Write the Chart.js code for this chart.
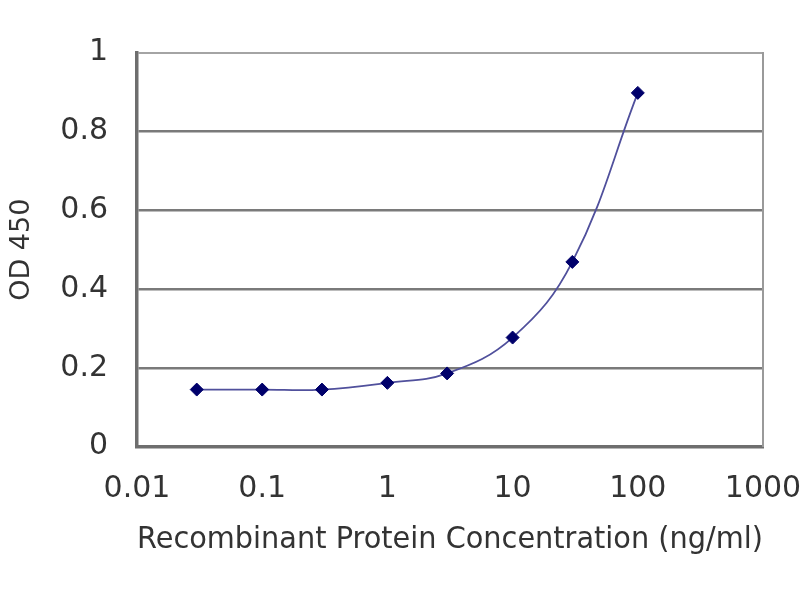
<!DOCTYPE html>
<html lang="en">
<head>
  <meta charset="UTF-8">
  <title>OD 450 x Recombinant Protein Concentration</title>
  <script src="https://cdn.jsdelivr.net/npm/chart.js@4"></script>
  <style>
    html, body { margin: 0; padding: 0; background: #fff; }
    #curva { display: block; }
  </style>
</head>
<body>
  <canvas id="curva" width="800" height="600"></canvas>

<script>
  // valores
  const concentracoes = [0.03, 0.1, 0.3, 1, 3, 10, 30, 100];
  const od450 = [0.145, 0.145, 0.145, 0.162, 0.186, 0.277, 0.469, 0.898];
  const ticksX = [0.01, 0.1, 1, 10, 100, 1000];
  const ticksY = [0, 0.2, 0.4, 0.6, 0.8, 1];

  const pontos = concentracoes.map((c, i) => ({ x: c, y: od450[i] }));
  const corTexto = '#333333';
  const fonte = { family: 'DejaVu Sans', size: 30 };

  new Chart(document.getElementById('curva'), {
    type: 'line',
    data: {
      datasets: [{
        label: 'OD 450',
        data: pontos,
        borderColor: '#50509c',
        borderWidth: 1.8,
        tension: 0.4,
        pointStyle: 'rectRot',
        pointRadius: 6.5,
        pointBackgroundColor: '#00006b',
        pointBorderColor: '#00006b',
        pointBorderWidth: 1
      }]
    },
    options: {
      responsive: false,
      animation: false,
      layout: { padding: { left: 0, right: 37, top: 52.7, bottom: 38 } },
      plugins: {
        legend: { display: false },
        tooltip: { enabled: false }
      },
      scales: {
        x: {
          type: 'logarithmic',
          min: 0.01,
          max: 1000,
          afterBuildTicks: s => { s.ticks = ticksX.map(v => ({ value: v })); },
          afterFit: s => { s.height = 115.3; s.paddingLeft = 0; s.paddingRight = 0; },
          ticks: {
            callback: v => String(v),
            autoSkip: false,
            maxRotation: 0,
            padding: 25,
            color: corTexto,
            font: fonte
          },
          grid: { display: false, drawTicks: false },
          border: { color: '#6e6e6e', width: 3.5 },
          title: {
            display: true,
            text: 'Recombinant Protein Concentration (ng/ml)',
            color: corTexto,
            font: { family: 'DejaVu Sans', size: 29.5 },
            padding: { top: 0, bottom: 4 }
          }
        },
        y: {
          min: 0,
          max: 1,
          afterBuildTicks: s => { s.ticks = ticksY.map(v => ({ value: v })); },
          afterFit: s => { s.width = 137; s.paddingTop = 0; s.paddingBottom = 0; },
          ticks: {
            callback: v => String(+v.toFixed(1)),
            padding: 29,
            color: corTexto,
            font: fonte
          },
          grid: {
            drawTicks: false,
            color: c => c.tick && c.tick.value === 1 ? '#a4a4a4' : '#7a7a7a',
            lineWidth: c => c.tick && c.tick.value === 1 ? 2 : 2.5
          },
          border: { color: '#6e6e6e', width: 3.5 },
          title: {
            display: true,
            text: 'OD 450',
            color: corTexto,
            font: { family: 'DejaVu Sans', size: 27 },
            padding: { top: 6, bottom: 4 }
          }
        },
        y2: {
          position: 'right',
          min: 0,
          max: 1,
          afterFit: s => { s.width = 0; s.paddingTop = 0; s.paddingBottom = 0; },
          ticks: { display: false },
          grid: { display: false, drawTicks: false },
          border: { color: '#9a9a9a', width: 2 }
        }
      }
    }
  });
</script>
</body>
</html>
